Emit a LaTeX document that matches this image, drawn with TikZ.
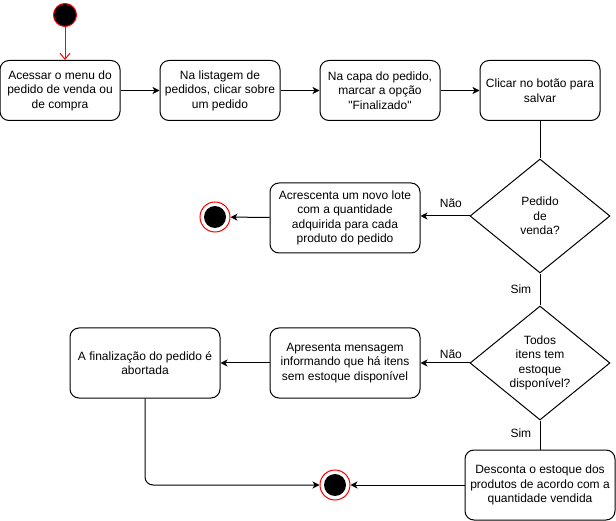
\documentclass[tikz,border=0pt]{standalone}
\usepackage{fontspec}
\setmainfont{Liberation Sans}[Ligatures=TeXOff]
\usetikzlibrary{arrows.meta,shapes.geometric}

\begin{document}
\begin{tikzpicture}[x=1pt,y=-1pt,line width=1pt,font=\fontsize{12}{14.5}\selectfont]
  \tikzstyle{act}=[draw,rounded corners=9pt,align=center,minimum width=120pt,minimum height=60pt,inner sep=2pt]
  \tikzstyle{wide}=[act,minimum width=150pt,minimum height=70pt]
  \tikzstyle{dec}=[draw,diamond,aspect=1.23,minimum width=140pt,minimum height=114pt,inner sep=0pt,align=center]
  \tikzstyle{flow}=[-{Stealth[length=7pt,width=7pt,inset=2pt]}]
  \tikzstyle{fim}=[circle,draw=red,minimum size=30pt,inner sep=0pt,path picture={\fill[black] (path picture bounding box.center) circle (11pt);}]
  \useasboundingbox (0,0) rectangle (616,521);
  \node[circle,draw=red,fill=black,minimum size=23pt,inner sep=0pt] at (65,15) (ini) {};
  \node[act] at (60,90.5) (a1) {Acessar o menu do\\pedido de venda ou\\de compra};
  \node[act] at (220,90.5) (a2) {Na listagem de\\pedidos, clicar sobre\\um pedido};
  \node[act] at (380,90.5) (a3) {Na capa do pedido,\\marcar a opção\\"Finalizado"};
  \node[act] at (540,90.5) (a4) {Clicar no botão para\\salvar};
  \node[dec] at (540,216) (d1) {Pedido\\de\\venda?};
  \node[wide] at (345,218) (acr) {Acrescenta um novo lote\\com a quantidade\\adquirida para cada\\produto do pedido};
  \node[fim] at (215,217) (f1) {};
  \node[dec] at (540,363) (d2) {Todos\\itens tem\\estoque\\disponível?};
  \node[wide] at (345,363) (apr) {Apresenta mensagem\\informando que há itens\\sem estoque disponível};
  \node[wide] at (145,363) (fin) {A finalização do pedido é\\abortada};
  \node[wide] at (540,485) (des) {Desconta o estoque dos\\produtos de acordo com a\\quantidade vendida};
  \node[fim] at (335,485) (f2) {};
  % fluxo principal
  \draw[red,-{Straight Barb[length=6pt,width=10pt]}] (ini) -- (ini |- a1.north);
  \foreach \i/\j in {a1/a2,a2/a3,a3/a4}{
    \draw[flow] (\i) -- (\j);
  }
  \draw (a4) -- (d1);
  \draw (d1) -- node[left=5pt]{Sim} (d2);
  \draw (d2) -- node[left=5pt,pos=0.43]{Sim} (des);
  \draw[flow] (d1.west) -- node[above=5pt,pos=0.38]{Não} (d1.west -| acr.east);
  \draw[flow] (acr) -- (f1);
  \draw[flow] (d2) -- node[above=1pt,pos=0.38]{Não} (apr);
  \draw[flow] (apr) -- (fin);
  \draw[flow,rounded corners=8pt] (fin.south) |- (f2);
  \draw[flow] (des) -- (f2);
\end{tikzpicture}
\end{document}
